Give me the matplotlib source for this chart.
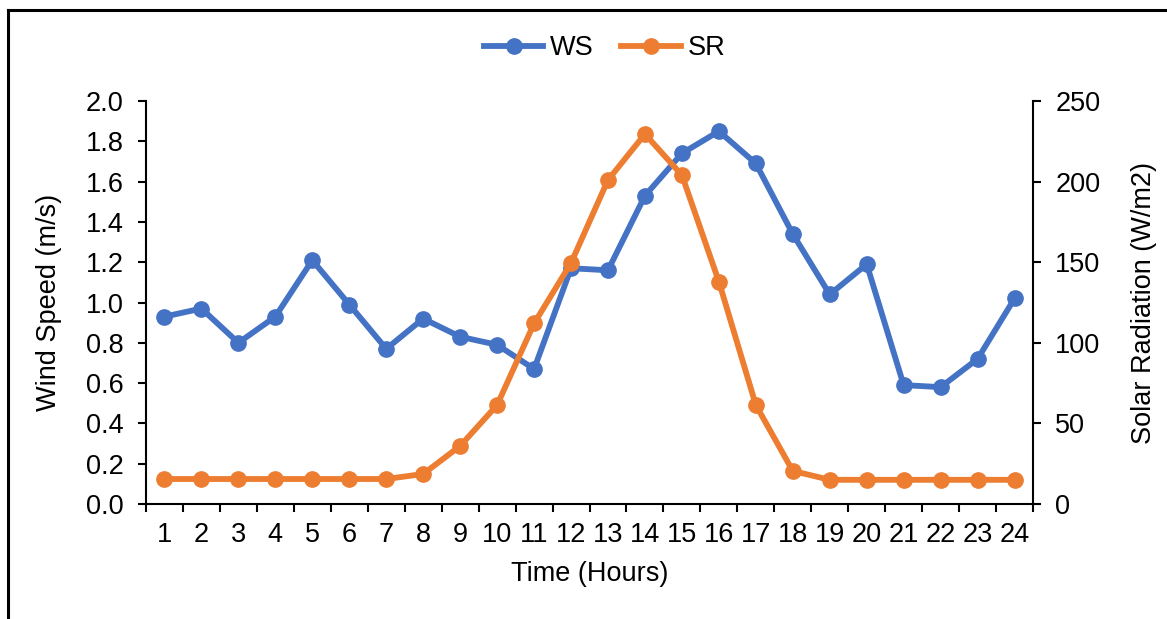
import numpy as np
import matplotlib.pyplot as plt
from matplotlib.lines import Line2D

plt.rcParams['font.family'] = ['Liberation Sans', 'DejaVu Sans']

hours = list(range(1, 25))
ws = [0.93, 0.97, 0.80, 0.93, 1.21, 0.99, 0.77, 0.92, 0.83, 0.79, 0.67, 1.17,
      1.16, 1.53, 1.74, 1.85, 1.69, 1.34, 1.04, 1.19, 0.59, 0.58, 0.72, 1.02]
sr = [15.5, 15.5, 15.5, 15.5, 15.5, 15.5, 15.5, 18.6, 36, 61.4, 112, 149.5,
      201, 229.5, 204, 138, 61.4, 20.5, 15, 15, 15, 15, 15, 15]

blue = '#4472C4'
orange = '#ED7D31'
fs = 19.5

fig = plt.figure(figsize=(11.67, 6.19), dpi=100)
ax = fig.add_axes([0.1251, 0.1858, 0.7601, 0.651])
ax2 = ax.twinx()

l1, = ax.plot(hours, ws, color=blue, lw=4.2, marker='o', ms=11, label='WS', zorder=3)
l2, = ax2.plot(hours, sr, color=orange, lw=4.2, marker='o', ms=11, label='SR', zorder=3)

ax.set_xlim(0.5, 24.5)
ax.set_ylim(0, 2.0)
ax2.set_ylim(0, 250)
ax.set_yticks(np.arange(0, 2.01, 0.2))
ax.set_yticklabels([f'{v:.1f}' for v in np.arange(0, 2.01, 0.2)])
ax2.set_yticks(np.arange(0, 251, 50))

# category labels at centres, tick marks between categories
ax.set_xticks(hours)
ax.set_xticklabels([str(h) for h in hours])
ax.set_xticks(np.arange(0.5, 25, 1), minor=True)
ax.tick_params(axis='x', which='major', length=0, pad=13, labelsize=fs)
ax.tick_params(axis='x', which='minor', length=6, width=1.5, direction='out')
ax.tick_params(axis='y', length=6, width=1.5, labelsize=fs, pad=10)
ax2.tick_params(axis='y', length=6, width=1.5, labelsize=fs, pad=10)

for a in (ax, ax2):
    a.spines['top'].set_visible(False)
    for s in ('left', 'right', 'bottom'):
        a.spines[s].set_linewidth(1.5)
ax.spines['right'].set_visible(False)
ax2.spines['left'].set_visible(False)
ax2.spines['bottom'].set_visible(False)

ax.set_xlabel('Time (Hours)', fontsize=fs, labelpad=9)
ax.set_ylabel('Wind Speed (m/s)', fontsize=fs, labelpad=17)
ax2.set_ylabel('Solar Radiation (W/m2)', fontsize=fs, labelpad=22)

fig.legend(handles=[l1, l2], loc='center', bbox_to_anchor=(0.518, 0.922), ncol=2,
           frameon=False, fontsize=fs, handlelength=2.2, columnspacing=1.0,
           handletextpad=0.25)

# frame lines along the left and top edges
fig.add_artist(Line2D([8 / 1167, 8 / 1167], [0, 1 - 10 / 619], color='black', lw=2.2,
                      transform=fig.transFigure))
fig.add_artist(Line2D([8 / 1167, 1], [1 - 10 / 619, 1 - 10 / 619], color='black', lw=2.2,
                      transform=fig.transFigure))

fig.savefig('out.png', dpi=100)
